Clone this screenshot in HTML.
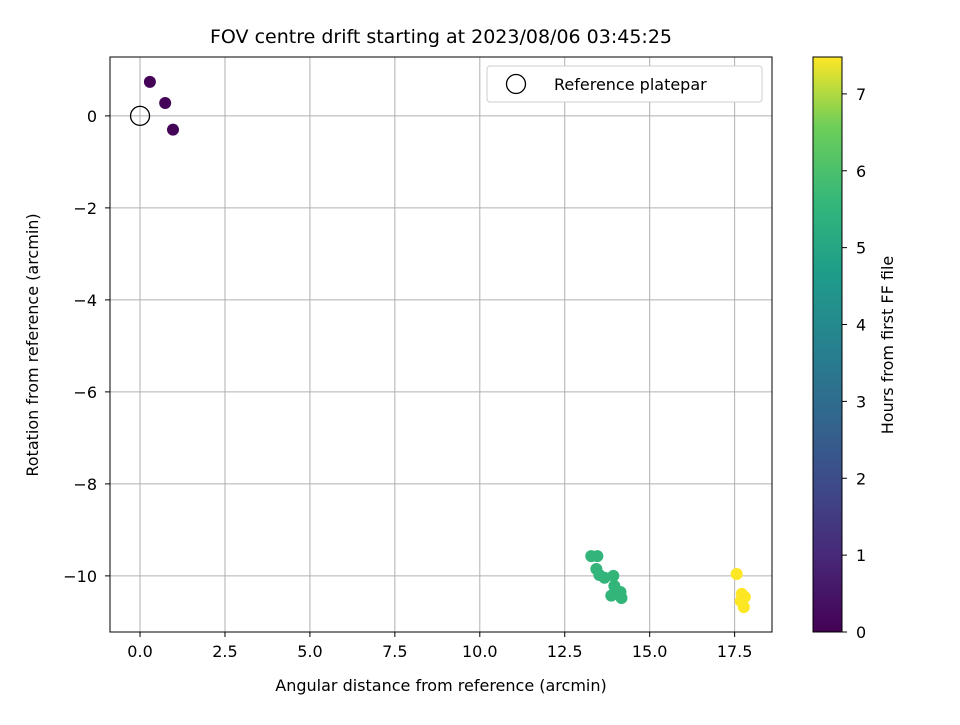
<!DOCTYPE html>
<html><head><meta charset="utf-8"><style>body{margin:0;background:#fff}svg{font-family:"DejaVu Sans","Liberation Sans",sans-serif}</style></head>
<body>
<svg id="chart" width="960" height="720" xmlns="http://www.w3.org/2000/svg">
<defs><linearGradient id="vir" x1="0" y1="1" x2="0" y2="0">
<stop offset="0" stop-color="#440154"/><stop offset="0.13" stop-color="#482878"/><stop offset="0.25" stop-color="#3e4989"/><stop offset="0.38" stop-color="#31688e"/><stop offset="0.5" stop-color="#26828e"/><stop offset="0.63" stop-color="#1f9e89"/><stop offset="0.75" stop-color="#35b779"/><stop offset="0.88" stop-color="#6ece58"/><stop offset="1" stop-color="#fde725"/></linearGradient></defs>
<g id="grid"></g><g id="pts"></g><g id="axes"></g>
</svg>
<script>
const xs=[0.29,0.74,0.97,13.28,13.46,13.43,13.52,13.67,13.93,13.96,13.87,14.14,14.17,17.56,17.71,17.8,17.68,17.77];
const ys=[0.74,0.28,-0.30,-9.57,-9.57,-9.85,-9.98,-10.04,-10.0,-10.22,-10.43,-10.35,-10.48,-9.96,-10.39,-10.46,-10.55,-10.68];
const hours=[0.05,0.08,0.1,5.5,5.5,5.5,5.5,5.5,5.55,5.55,5.55,5.55,5.55,7.5,7.5,7.5,7.5,7.5];
const xTicks=[0,2.5,5,7.5,10,12.5,15,17.5];
const yTicks=[0,-2,-4,-6,-8,-10];
const cTicks=[0,1,2,3,4,5,6,7];
const L=110,R=772,T=57,B=632,x0=-0.884,x1=18.6,y0=-11.22,y1=1.28,cMax=7.48;
const X=v=>L+(v-x0)/(x1-x0)*(R-L), Y=v=>B-(v-y0)/(y1-y0)*(B-T), C=v=>B-v/cMax*(B-T);
const NS="http://www.w3.org/2000/svg";
function mk(t,a,p,txt){const e=document.createElementNS(NS,t);for(const k in a)e.setAttribute(k,a[k]);if(txt!==undefined)e.textContent=txt;p.appendChild(e);return e;}
const stops=[[68,1,84],[72,40,120],[62,73,137],[49,104,142],[38,130,142],[31,158,137],[53,183,121],[110,206,88],[253,231,37]];
function vir(h){let t=Math.max(0,Math.min(1,h/7.5))*8,i=Math.min(7,Math.floor(t)),f=t-i,a=stops[i],b=stops[i+1];return `rgb(${a.map((v,k)=>Math.round(v+(b[k]-v)*f)).join(',')})`;}
const g=document.getElementById('grid'),p=document.getElementById('pts'),ax=document.getElementById('axes');
xTicks.forEach(v=>{const l=mk('line',{x1:X(v),x2:X(v),y1:T,y2:B,stroke:'#b0b0b0','stroke-width':1},g);
 mk('line',{x1:X(v),x2:X(v),y1:B,y2:B+5,stroke:'#000'},ax);const t=mk('text',{x:X(v),y:B+25,'text-anchor':'middle','font-size':16},ax,v.toFixed(1));});
yTicks.forEach(v=>{const l=mk('line',{x1:L,x2:R,y1:Y(v),y2:Y(v),stroke:'#b0b0b0','stroke-width':1},g);
 mk('line',{x1:L-5,x2:L,y1:Y(v),y2:Y(v),stroke:'#000'},ax);const t=mk('text',{x:L-13,y:Y(v)+6,'text-anchor':'end','font-size':16},ax,(v<0?'\u2212'+(-v):v));});
xs.forEach((v,i)=>{const c=mk('circle',{cx:X(v),cy:Y(ys[i]),r:6,fill:vir(hours[i])},p);});
let rc=mk('circle',{cx:X(0),cy:Y(0),r:9.5,fill:'none',stroke:'#000','stroke-width':1.3},p);
let fr=mk('rect',{x:L,y:T,width:R-L,height:B-T,fill:'none',stroke:'#000','stroke-width':1},ax);
let lg=mk('g',{},ax);
mk('rect',{x:487,y:66,width:275,height:36,rx:3,fill:'#fff',stroke:'#ccc'},lg);
mk('circle',{cx:516,cy:84,r:9.5,fill:'none',stroke:'#000','stroke-width':1.3},lg);
mk('text',{x:554,y:90,'font-size':16},lg,'Reference platepar');
let tt=mk('text',{x:441,y:43,'text-anchor':'middle','font-size':19},ax,'FOV centre drift starting at 2023/08/06 03:45:25');
let xt=mk('text',{x:441,y:691,'text-anchor':'middle','font-size':16},ax,'Angular distance from reference (arcmin)');
let yt=mk('text',{x:38,y:345,'text-anchor':'middle','font-size':16,transform:'rotate(-90 38 345)'},ax,'Rotation from reference (arcmin)');
let cb=mk('rect',{x:813,y:T,width:29,height:B-T,fill:'url(#vir)',stroke:'#000'},ax);
cTicks.forEach(v=>{mk('line',{x1:842,x2:847,y1:C(v),y2:C(v),stroke:'#000'},ax);const t=mk('text',{x:856,y:C(v)+6,'font-size':16},ax,v);});
let ct=mk('text',{x:893,y:345,'text-anchor':'middle','font-size':16,transform:'rotate(-90 893 345)'},ax,'Hours from first FF file');
</script>
</body></html>
